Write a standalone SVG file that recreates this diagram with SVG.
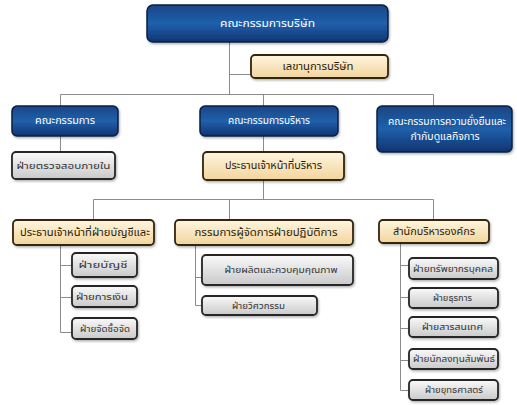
<svg xmlns="http://www.w3.org/2000/svg" width="517" height="405" viewBox="0 0 517 405">
<defs>
<linearGradient id="gBlue" x1="0" y1="0" x2="0" y2="1">
<stop offset="0" stop-color="#1a4684"/>
<stop offset="0.5" stop-color="#2060ac"/>
<stop offset="1" stop-color="#0f3470"/>
</linearGradient>
<linearGradient id="gTan" x1="0" y1="0" x2="0" y2="1">
<stop offset="0" stop-color="#fff6e0"/>
<stop offset="1" stop-color="#f1d49c"/>
</linearGradient>
<linearGradient id="gGrey" x1="0" y1="0" x2="0" y2="1">
<stop offset="0" stop-color="#fafafa"/>
<stop offset="1" stop-color="#c9c9c9"/>
</linearGradient>
<filter id="sh" x="-10%" y="-20%" width="125%" height="150%">
<feDropShadow dx="1" dy="1.5" stdDeviation="1.2" flood-color="#000" flood-opacity="0.3"/>
</filter>
</defs>
<style>
.blue{fill:url(#gBlue);stroke:#0a1f42;stroke-width:1.5;filter:url(#sh)}
.tan{fill:url(#gTan);stroke:#33260f;stroke-width:1.8;filter:url(#sh)}
.grey{fill:url(#gGrey);stroke:#262626;stroke-width:1.8;filter:url(#sh)}
text{font-family:"Noto Sans Thai","Noto Sans","DejaVu Sans",sans-serif;text-anchor:middle;dominant-baseline:central;lengthAdjust:spacingAndGlyphs}
.tw{fill:#ffffff;font-size:10.5px}
.tt{fill:#2a1c08;font-size:10.5px}
.tg{fill:#333333;font-size:9px}
.conn{stroke:#8c8c8c;stroke-width:1;fill:none}
</style>
<rect width="517" height="405" fill="#ffffff"/>
<g id="connectors" class="conn">
<path d="M229.5 42V94.5M229.5 74.5H251"/>
<path d="M60.5 94.5H433.5M60.5 94.5V106M263.5 94.5V106M433.5 94.5V106"/>
<path d="M60.5 136V152"/>
<path d="M263.5 136V152"/>
<path d="M263.5 180V199.5M93.5 199.5H433.5M93.5 199.5V220M229.5 199.5V220M433.5 199.5V220"/>
<path d="M60.5 245V332.5M60.5 265.5H72M60.5 297.5H72M60.5 332.5H72"/>
<path d="M195.5 245V305.5M195.5 277.5H202M195.5 305.5H202"/>
<path d="M400.5 243V390.5M400.5 265.5H409M400.5 297.5H409M400.5 328.5H409M400.5 360.5H409M400.5 390.5H409"/>
</g>
<g id="n-board"><rect class="blue" x="147" y="5" width="241" height="37" rx="6"/><text class="tw" x="267.5" y="23.5" font-size="12" textLength="95" lengthAdjust="spacingAndGlyphs">คณะกรรมการบริษัท</text></g>
<g id="n-secretary"><rect class="tan" x="251" y="55" width="137" height="23" rx="4"/><text class="tt" x="318" y="66.5" textLength="71" lengthAdjust="spacingAndGlyphs">เลขานุการบริษัท</text></g>
<g id="n-committee"><rect class="blue" x="12" y="106" width="106" height="30" rx="5"/><text class="tw" x="65" y="121" textLength="60" lengthAdjust="spacingAndGlyphs">คณะกรรมการ</text></g>
<g id="n-exec-committee"><rect class="blue" x="200" y="106" width="138" height="30" rx="5"/><text class="tw" x="269" y="121" textLength="82" lengthAdjust="spacingAndGlyphs">คณะกรรมการบริหาร</text></g>
<g id="n-sustain"><rect class="blue" x="377" y="106" width="135" height="46" rx="5"/><text class="tw" x="447" y="121.5" textLength="118" lengthAdjust="spacingAndGlyphs">คณะกรรมการความยั่งยืนและ</text><text class="tw" x="445" y="136.5">กำกับดูแลกิจการ</text></g>
<g id="n-audit"><rect class="grey" x="12" y="152" width="103" height="27" rx="4"/><text class="tg" x="63.5" y="165.5" font-size="10.5" textLength="94" lengthAdjust="spacingAndGlyphs">ฝ่ายตรวจสอบภายใน</text></g>
<g id="n-ceo"><rect class="tan" x="203" y="152" width="141" height="28" rx="4"/><text class="tt" x="273.5" y="166" textLength="97" lengthAdjust="spacingAndGlyphs">ประธานเจ้าหน้าที่บริหาร</text></g>
<g id="n-cfo"><rect class="tan" x="13" y="220" width="141" height="25" rx="4"/><text class="tt" x="85" y="232.5" textLength="130" lengthAdjust="spacingAndGlyphs">ประธานเจ้าหน้าที่ฝ่ายบัญชีและ</text></g>
<g id="n-coo"><rect class="tan" x="175" y="220" width="178" height="25" rx="4"/><text class="tt" x="266" y="232.5" textLength="143" lengthAdjust="spacingAndGlyphs">กรรมการผู้จัดการฝ่ายปฏิบัติการ</text></g>
<g id="n-corp"><rect class="tan" x="379" y="220" width="110" height="23" rx="4"/><text class="tt" x="434" y="231.5" textLength="82" lengthAdjust="spacingAndGlyphs">สำนักบริหารองค์กร</text></g>
<g id="n-account"><rect class="grey" x="72" y="253" width="65" height="24" rx="4"/><text class="tg" x="103" y="265" textLength="49" lengthAdjust="spacingAndGlyphs">ฝ่ายบัญชี</text></g>
<g id="n-finance"><rect class="grey" x="72" y="286" width="65" height="21" rx="4"/><text class="tg" x="102" y="296.5" textLength="52" lengthAdjust="spacingAndGlyphs">ฝ่ายการเงิน</text></g>
<g id="n-procure"><rect class="grey" x="72" y="318" width="65" height="21" rx="4"/><text class="tg" x="105" y="328.5" textLength="50" lengthAdjust="spacingAndGlyphs">ฝ่ายจัดซื้อจัด</text></g>
<g id="n-production"><rect class="grey" x="202" y="255" width="151" height="30" rx="4"/><text class="tg" x="281" y="270" textLength="113" lengthAdjust="spacingAndGlyphs">ฝ่ายผลิตและควบคุมคุณภาพ</text></g>
<g id="n-engineering"><rect class="grey" x="202" y="296" width="115" height="19" rx="4"/><text class="tg" x="258.5" y="305.5" textLength="53" lengthAdjust="spacingAndGlyphs">ฝ่ายวิศวกรรม</text></g>
<g id="n-hr"><rect class="grey" x="409" y="258" width="89" height="21" rx="4"/><text class="tg" x="453" y="268.5" textLength="80" lengthAdjust="spacingAndGlyphs">ฝ่ายทรัพยากรบุคคล</text></g>
<g id="n-admin"><rect class="grey" x="409" y="288" width="89" height="20" rx="4"/><text class="tg" x="452.5" y="298" textLength="39" lengthAdjust="spacingAndGlyphs">ฝ่ายธุรการ</text></g>
<g id="n-it"><rect class="grey" x="409" y="317" width="89" height="20" rx="4"/><text class="tg" x="452.5" y="327" textLength="61" lengthAdjust="spacingAndGlyphs">ฝ่ายสารสนเทศ</text></g>
<g id="n-ir"><rect class="grey" x="409" y="349" width="89" height="20" rx="4"/><text class="tg" x="454" y="359" textLength="82" lengthAdjust="spacingAndGlyphs">ฝ่ายนักลงทุนสัมพันธ์</text></g>
<g id="n-strategy"><rect class="grey" x="409" y="380" width="89" height="20" rx="4"/><text class="tg" x="454" y="390" textLength="58" lengthAdjust="spacingAndGlyphs">ฝ่ายยุทธศาสตร์</text></g>
</svg>
